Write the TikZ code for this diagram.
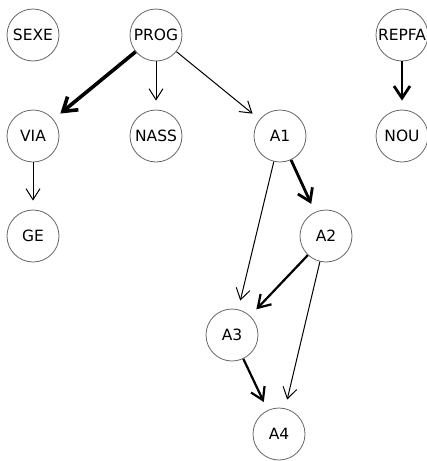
\documentclass[tikz,border=0pt]{standalone}
\usepackage{fontspec}
\setmainfont{DejaVu Sans}
\usetikzlibrary{arrows.meta}
\begin{document}
\begin{tikzpicture}[x=1pt,y=-1pt,
  nd/.style={circle,draw=black!60,line width=0.8pt,minimum size=52pt,inner sep=0pt,font=\fontsize{15.5}{18}\selectfont},
  thin/.style={line width=1pt,-{Straight Barb[length=11pt,width=14pt,line width=1pt]},shorten >=9pt},
  mid/.style={line width=2.2pt,-{Straight Barb[length=12pt,width=15pt,line width=2.2pt]},shorten >=9pt},
  thk/.style={line width=2.8pt,-{Straight Barb[length=12pt,width=16pt,line width=2.8pt]},shorten >=9pt},
  vthk/.style={line width=3.6pt,-{Straight Barb[length=13pt,width=17pt,line width=3.6pt]},shorten >=9pt}]
\useasboundingbox (0,0) rectangle (427,461);
\node[nd] (SEXE) at (33,35) {SEXE};
\node[nd] (PROG) at (156,35) {PROG};
\node[nd] (REPFA) at (402,35) {REPFA};
\node[nd] (VIA) at (33,136) {VIA};
\node[nd] (NASS) at (156,136) {NASS};
\node[nd] (A1) at (280,136) {A1};
\node[nd] (NOU) at (402,136) {NOU};
\node[nd] (GE) at (33,236) {GE};
\node[nd] (A2) at (326,236) {A2};
\node[nd] (A3) at (232,335) {A3};
\node[nd] (A4) at (279,434) {A4};
\draw[vthk] (PROG) -- (VIA);
\draw[thin] (PROG) -- (NASS);
\draw[thin] (PROG) -- (A1);
\draw[thk] (REPFA) -- (NOU);
\draw[thin] (VIA) -- (GE);
\draw[thk] (A1) -- (A2);
\draw[thin] (A1) -- (A3);
\draw[mid] (A2) -- (A3);
\draw[thin] (A2) -- (A4);
\draw[mid] (A3) -- (A4);
\end{tikzpicture}
\end{document}
